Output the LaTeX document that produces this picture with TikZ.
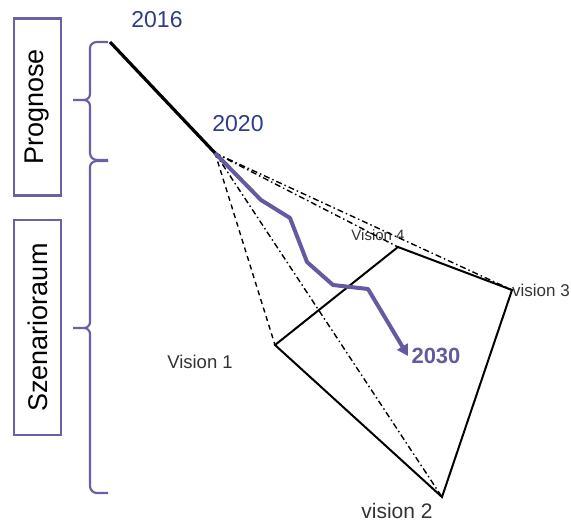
\documentclass[tikz,border=0pt]{standalone}
\usepackage{fontspec}
\setmainfont{Liberation Sans}
\usetikzlibrary{arrows.meta}
\definecolor{lblue}{RGB}{46,60,140}
\definecolor{lpurp}{RGB}{100,90,160}
\definecolor{bpurp}{RGB}{105,96,165}
\begin{document}
\begin{tikzpicture}[x=1pt,y=-1pt,
  sidebox/.style={draw=bpurp,line width=2.2pt,rotate=90,minimum height=47pt,inner sep=0pt,font=\fontsize{27}{27}\selectfont},
  bracepath/.style={draw=bpurp,line width=2.2pt},
  yearlbl/.style={text=lblue,font=\fontsize{23}{23}\selectfont},
  vlbl/.style={text=black!80,font=\fontsize{18.5}{18.5}\selectfont},
  edge/.style={draw=black,line width=2pt},
  dd/.style={draw=black,line width=1.4pt,dash pattern=on 6pt off 3pt on 1.5pt off 3pt},
  dsh/.style={draw=black,line width=1.4pt,dash pattern=on 5pt off 4pt},
  trend/.style={draw=lpurp,line width=4pt,line join=round}]
\useasboundingbox (0,0) rectangle (571,523);
% side boxes
\node[sidebox,minimum width=177pt] (prog) at (37.5,107) {Prognose};
\node[sidebox,minimum width=215pt] (szen) at (37.5,327.5) {Szenarioraum};
% braces
\path[bracepath] (108,42) -- (97,42) to[out=180,in=90] (90,48) -- (90,94) to[out=-90,in=0] (84,100) -- (73,100)
  (84,100) to[out=0,in=90] (90,106) -- (90,153) to[out=-90,in=180] (97,160) -- (108,160);
\path[bracepath] (108,161) -- (97,161) to[out=180,in=90] (90,167) -- (90,322) to[out=-90,in=0] (84,328) -- (73,328)
  (84,328) to[out=0,in=90] (90,334) -- (90,486) to[out=-90,in=180] (97,493) -- (108,493);
% key points
\coordinate (p16) at (110,42);
\coordinate (p20) at (215,153);
\coordinate (v1) at (275,345);
\coordinate (v2) at (442,497);
\coordinate (v3) at (512,290);
\coordinate (v4) at (398,247);
% labels
\node[yearlbl] (l16) at (157,20) {2016};
\node[yearlbl] (l20) at (238,124) {2020};
\node[vlbl] (l1) at (200,362) {Vision 1};
\node[vlbl,font=\fontsize{21}{21}\selectfont] (l2) at (397,511) {vision 2};
\node[vlbl,font=\fontsize{17}{17}\selectfont] (l3) at (541,290) {vision 3};
\node[vlbl,font=\fontsize{15}{15}\selectfont] (l4) at (378,235) {Vision 4};
\node[text=lpurp,font=\bfseries\fontsize{22}{22}\selectfont] (l30) at (436,356) {2030};
% prognosis line
\draw[line width=3.2pt] (p16) -- (p20);
% scenario cone
\path[dsh] (p20) -- (v1);
\path[dd] (p20) -- (v2);
\path[dd] (p20) -- (v4);
\path[dd] (p20) -- (v3);
% scenario polygon
\path[edge,line join=miter] (v1) -- (v4) -- (v3) -- (v2) -- cycle;
% trend line
\path[trend,-{Triangle[length=11pt,width=12pt]}] (p20) -- (261,200) -- (290,218) -- (307,262) -- (333,285) -- (368,289) -- (l30.west);
\end{tikzpicture}
\end{document}
